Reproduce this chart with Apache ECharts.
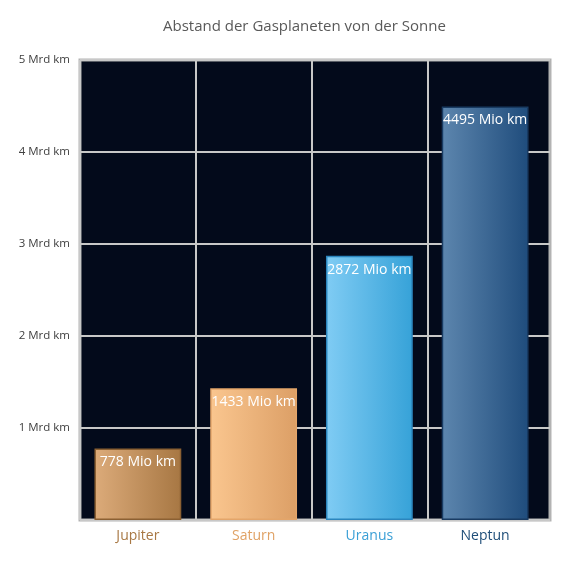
<!DOCTYPE html>
<html>
<head>
<meta charset="utf-8">
<script src="https://cdn.jsdelivr.net/npm/echarts@6/dist/echarts.min.js"></script>
<style>
  html, body {margin: 0; padding: 0; background: #fff;}
  #main {width: 570px; height: 570px;}
</style>
</head>
<body>
<div id="main"></div>
<script>
const planets = ['Jupiter', 'Saturn', 'Uranus', 'Neptun'];
const distances = [778, 1433, 2872, 4495]; // Mio km
const yTicks = [0, 1000, 2000, 3000, 4000, 5000];
const barColors = [
  ['#dcab7a', '#a77743', '#8b6033'],
  ['#fac68f', '#dc9f66', '#e3a56a'],
  ['#80ccf4', '#36a2d8', '#2b85bd'],
  ['#5d86ae', '#1f4c7c', '#193b62']
];
const labelColors = ['#a87844', '#e0a265', '#3a9fd6', '#1f4e79'];

const chart = echarts.init(document.getElementById('main'));

const grad = (c) => new echarts.graphic.LinearGradient(0, 0, 1, 0, [
  {offset: 0, color: c[0]},
  {offset: 1, color: c[1]}
]);

chart.setOption({
  animation: false,
  title: {
    text: 'Abstand der Gasplaneten von der Sonne',
    left: 158, top: 14,
    textStyle: {fontFamily: 'Open Sans', fontSize: 15, fontWeight: 'normal', color: '#595959'}
  },
  grid: [
    // frame + horizontal grid
    {left: 80, right: 20, top: 60, bottom: 50, show: true, backgroundColor: '#030a1b',
      borderColor: '#b3b3b3', borderWidth: 3, z: 0},
    // bars
    {left: 80, right: 27, top: 60, bottom: 50}
  ],
  xAxis: [
    {gridIndex: 0, type: 'value', show: false, min: 0, max: 1},
    {
      gridIndex: 1, type: 'category', data: planets,
      axisLine: {show: false}, axisTick: {show: false},
      axisLabel: {
        margin: 9, fontFamily: 'Open Sans', fontSize: 14,
        color: (v, i) => labelColors[i]
      },
      splitLine: {show: true, interval: 0, lineStyle: {
        color: ['#c8c8c8', '#c8c8c8', '#c8c8c8', '#c8c8c8', 'rgba(0,0,0,0)'], width: 2}}
    }
  ],
  yAxis: [
    {
      gridIndex: 0, type: 'value', min: yTicks[0], max: yTicks[yTicks.length - 1], interval: 1000,
      axisLine: {show: false}, axisTick: {show: false},
      axisLabel: {
        margin: 10, fontFamily: 'Open Sans', fontSize: 11.5, color: '#404040',
        formatter: (v) => v === 0 ? '' : (v / 1000) + ' Mrd km'
      },
      splitLine: {lineStyle: {color: '#c8c8c8', width: 2}}
    },
    {gridIndex: 1, type: 'value', min: 0, max: 5000, show: false}
  ],
  series: [{
    type: 'bar',
    xAxisIndex: 1, yAxisIndex: 1,
    barWidth: '75%',
    data: distances.map((v, i) => ({
      value: v,
      itemStyle: {color: grad(barColors[i]), borderColor: barColors[i][2], borderWidth: 1.5}
    })),
    label: {
      show: true, position: 'insideTop', distance: 7,
      fontFamily: 'Open Sans', fontSize: 14, color: '#ffffff',
      formatter: (p) => p.value + ' Mio km'
    }
  }]
});
</script>
</body>
</html>
